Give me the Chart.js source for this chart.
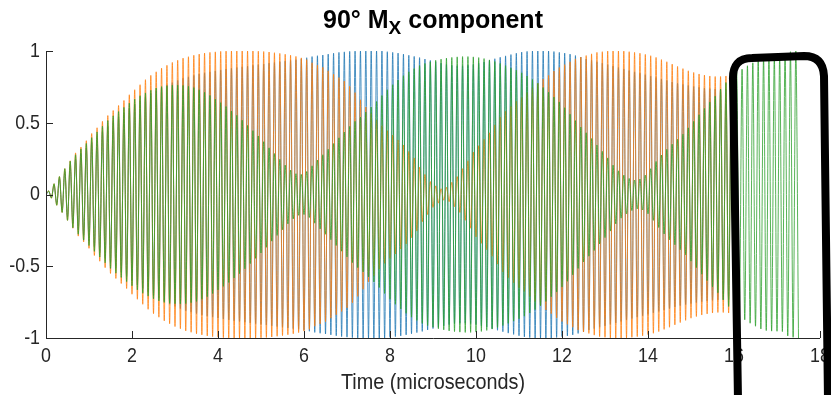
<!DOCTYPE html>
<html>
<head>
<meta charset="utf-8">
<script src="https://cdn.jsdelivr.net/npm/chart.js@4.4.1/dist/chart.umd.min.js"></script>
<style>
  html, body { margin: 0; padding: 0; background: #fff; }
  #wrap { width: 831px; height: 395px; }
</style>
</head>
<body>
<div id="wrap"><canvas id="chart" width="831" height="395"></canvas></div>
<script>
// carrier frequency of the oscillation (cycles per microsecond)
const carrierMHz = 8;

// peak amplitude of each carrier cycle (one value per cycle)
const blueEnv = [
  0.02,0.06,0.11,0.155,0.2,0.245,0.285,0.325,0.365,0.405,
  0.44,0.475,0.51,0.54,0.57,0.6,0.63,0.655,0.68,0.705,
  0.725,0.745,0.765,0.78,0.795,0.81,0.82,0.83,0.84,0.848,
  0.855,0.862,0.868,0.874,0.88,0.885,0.89,0.895,0.9,0.905,
  0.91,0.915,0.92,0.925,0.93,0.935,0.94,0.946,0.953,0.961,
  0.967,0.972,0.978,0.984,0.99,0.994,0.997,0.999,1,1,
  1,1,1,0.995,0.99,0.985,0.978,0.97,0.962,0.954,
  0.944,0.934,0.925,0.915,0.907,0.9,0.897,0.897,0.9,0.906,
  0.914,0.924,0.935,0.946,0.956,0.966,0.975,0.984,0.992,0.997,
  1,1,1,1,0.996,0.99,0.985,0.978,0.968,0.958,
  0.945,0.935,0.925,0.915,0.905,0.895,0.885,0.875,0.865,0.855,
  0.845,0.835,0.825,0.815,0.805,0.795,0.785,0.775,0.767,0.76,
  0.753,0.747,0.742,0.738,0.735,0.733,0.732,0.732
];
const orangeEnv = [
  0.025,0.075,0.125,0.18,0.235,0.29,0.33,0.375,0.425,0.465,
  0.51,0.55,0.585,0.62,0.655,0.695,0.73,0.765,0.8,0.83,
  0.855,0.88,0.9,0.92,0.935,0.95,0.96,0.97,0.978,0.985,
  0.99,0.994,0.997,0.999,1,1,1,1,1,0.998,
  0.996,0.993,0.988,0.983,0.977,0.97,0.962,0.952,0.94,0.918,
  0.902,0.886,0.862,0.838,0.815,0.79,0.755,0.71,0.66,0.61,
  0.565,0.52,0.48,0.445,0.415,0.38,0.345,0.3,0.255,0.19,
  0.14,0.09,0.06,0.04,0.05,0.085,0.125,0.18,0.235,0.295,
  0.34,0.385,0.43,0.485,0.54,0.58,0.615,0.65,0.675,0.71,
  0.745,0.775,0.805,0.83,0.86,0.885,0.905,0.925,0.945,0.958,
  0.968,0.98,0.99,0.995,0.999,1,1,0.999,0.995,0.99,
  0.984,0.976,0.967,0.955,0.94,0.925,0.908,0.892,0.877,0.862,
  0.85,0.84,0.832,0.826,0.822,0.822,0.826,0.834
];
const greenEnv = [
  0.025,0.075,0.125,0.18,0.232,0.277,0.318,0.356,0.396,0.436,
  0.476,0.515,0.548,0.578,0.607,0.637,0.665,0.688,0.708,0.727,
  0.742,0.752,0.758,0.761,0.762,0.76,0.754,0.745,0.73,0.712,
  0.69,0.665,0.64,0.613,0.582,0.552,0.518,0.482,0.445,0.408,
  0.368,0.325,0.285,0.245,0.205,0.17,0.145,0.14,0.16,0.2,
  0.24,0.277,0.315,0.355,0.395,0.435,0.475,0.51,0.54,0.575,
  0.61,0.648,0.69,0.73,0.765,0.798,0.828,0.855,0.878,0.898,
  0.913,0.925,0.935,0.943,0.95,0.955,0.959,0.961,0.961,0.959,
  0.954,0.947,0.938,0.927,0.913,0.898,0.882,0.866,0.848,0.826,
  0.802,0.775,0.745,0.713,0.68,0.645,0.605,0.56,0.515,0.47,
  0.43,0.39,0.345,0.3,0.255,0.205,0.165,0.135,0.112,0.1,
  0.108,0.135,0.18,0.23,0.275,0.315,0.35,0.385,0.42,0.465,
  0.51,0.555,0.6,0.645,0.685,0.735,0.78,0.82,0.85,0.873,
  0.897,0.918,0.937,0.948,0.952,0.953,0.955,0.985,0.995,1
];

const xTicks = [0, 2, 4, 6, 8, 10, 12, 14, 16, 18];
const yTicks = [-1, -0.5, 0, 0.5, 1];

// each cycle: a positive peak, then a negative peak half a period later
function trace(env) {
  const half = 1 / carrierMHz / 2;
  const pts = [{ x: 0, y: 0 }];
  env.forEach((a, k) => {
    pts.push({ x: (2 * k + 1) * half, y: a });
    pts.push({ x: (2 * k + 2) * half, y: -a });
  });
  return pts;
}

const AXIS = '#262626';
const FONT = '"Liberation Sans", Arial, Helvetica, sans-serif';

function squashText(ctx, s, x, y, align, sx) {
  ctx.save();
  ctx.translate(x, y);
  ctx.scale(sx, 1);
  ctx.textAlign = align;
  ctx.fillText(s, 0, 0);
  ctx.restore();
}

const axesPlugin = {
  id: 'matlabAxes',
  afterDraw(chart) {
    const ctx = chart.ctx;
    const a = chart.chartArea;
    const xs = chart.scales.x, ys = chart.scales.y;
    ctx.save();

    // axis lines + inward ticks
    ctx.strokeStyle = AXIS;
    ctx.lineWidth = 1;
    ctx.beginPath();
    ctx.moveTo(a.left + 0.5, a.top);
    ctx.lineTo(a.left + 0.5, a.bottom + 0.5);
    ctx.lineTo(a.right, a.bottom + 0.5);
    xTicks.forEach(v => {
      const px = Math.round(xs.getPixelForValue(v)) + 0.5;
      ctx.moveTo(px, a.bottom);
      ctx.lineTo(px, a.bottom - 7);
    });
    yTicks.forEach(v => {
      const py = Math.round(ys.getPixelForValue(v)) + 0.5;
      ctx.moveTo(a.left, py);
      ctx.lineTo(a.left + 7, py);
    });
    ctx.stroke();

    // tick labels
    ctx.fillStyle = AXIS;
    ctx.font = '21px ' + FONT;
    ctx.textBaseline = 'middle';
    yTicks.forEach(v => {
      squashText(ctx, String(v), a.left - 6, ys.getPixelForValue(v), 'right', 0.85);
    });
    ctx.textBaseline = 'alphabetic';
    xTicks.forEach(v => {
      squashText(ctx, String(v), xs.getPixelForValue(v), a.bottom + 24, 'center', 0.85);
    });

    // axis title
    ctx.font = '22px ' + FONT;
    squashText(ctx, 'Time (microseconds)', (a.left + a.right) / 2, a.bottom + 51, 'center', 0.9);

    // title with subscript
    ctx.fillStyle = '#000';
    const big = 'bold 25px ' + FONT, small = 'bold 19px ' + FONT;
    const parts = [['90° M', big, 0], ['X', small, 6], [' component', big, 0]];
    let total = 0;
    parts.forEach(p => { ctx.font = p[1]; total += ctx.measureText(p[0]).width; });
    let x = (a.left + a.right) / 2 - total / 2;
    parts.forEach(p => {
      ctx.font = p[1];
      squashText(ctx, p[0], x, 28 + p[2], 'left', 1);
      x += ctx.measureText(p[0]).width;
    });

    // hand-drawn highlight box
    ctx.strokeStyle = '#000';
    ctx.lineWidth = 8;
    ctx.lineJoin = 'round';
    ctx.lineCap = 'round';
    ctx.beginPath();
    ctx.moveTo(738, 400);
    ctx.lineTo(733, 80);
    ctx.quadraticCurveTo(732, 58, 752, 58);
    ctx.lineTo(804, 56);
    ctx.quadraticCurveTo(823, 56, 824, 76);
    ctx.lineTo(828, 400);
    ctx.stroke();

    ctx.restore();
  }
};

const line = (label, env, color, order) => ({
  label,
  data: trace(env),
  borderColor: color,
  borderWidth: 0.8,
  pointRadius: 0,
  cubicInterpolationMode: 'monotone',
  order
});

new Chart(document.getElementById('chart'), {
  type: 'line',
  data: {
    datasets: [
      line('blue', blueEnv, '#1f77b4', 2),
      line('orange', orangeEnv, '#ff7f0e', 1),
      line('green', greenEnv, '#2ca02c', 0)
    ]
  },
  options: {
    responsive: false,
    animation: false,
    devicePixelRatio: 1,
    layout: { padding: { left: 46, right: 11, top: 51, bottom: 57 } },
    plugins: { legend: { display: false }, tooltip: { enabled: false } },
    scales: {
      x: { type: 'linear', min: 0, max: 18, display: false },
      y: { min: -1, max: 1, display: false }
    }
  },
  plugins: [axesPlugin]
});
</script>
</body>
</html>
